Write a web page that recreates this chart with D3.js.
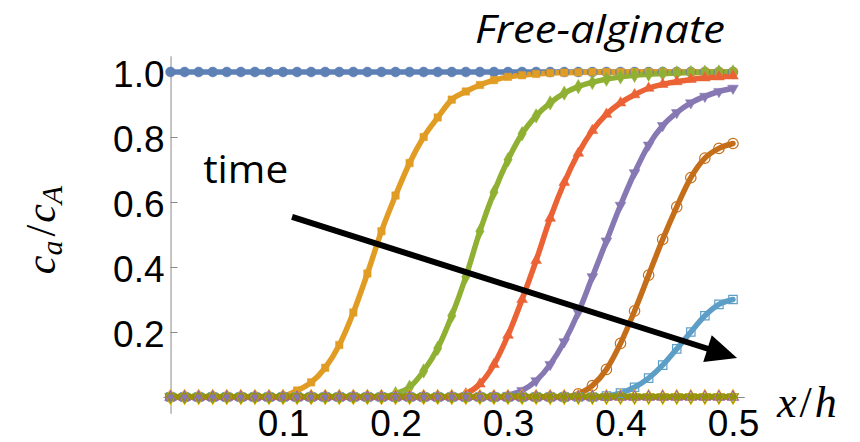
<!DOCTYPE html>
<html>
<head>
<meta charset="utf-8">
<script src="https://cdn.jsdelivr.net/npm/d3@7"></script>
<style>
  body { margin: 0; background: #fff; }
  svg { display: block; }
</style>
</head>
<body>
<svg id="chart"></svg>
<script>
// x/h positions of the sampled points
var xs = [0, 0.0125, 0.025, 0.0375, 0.05, 0.0625, 0.075, 0.0875, 0.1, 0.1125,
          0.125, 0.1375, 0.15, 0.1625, 0.175, 0.1875, 0.2, 0.2125, 0.225, 0.2375,
          0.25, 0.2625, 0.275, 0.2875, 0.3, 0.3125, 0.325, 0.3375, 0.35, 0.3625,
          0.375, 0.3875, 0.4, 0.4125, 0.425, 0.4375, 0.45, 0.4625, 0.475, 0.4875, 0.5];

// c_a / c_A at each x, one array per time step
var s1 = [1, 1, 1, 1, 1, 1, 1, 1, 1, 1, 1, 1, 1, 1, 1, 1, 1, 1, 1, 1,
          1, 1, 1, 1, 1, 1, 1, 1, 1, 1, 1, 1, 1, 1, 1, 1, 1, 1, 1, 1, 1];
var s2 = [0, 0, 0, 0, 0, 0, 0, 0, 0.003, 0.02, 0.045, 0.09, 0.16, 0.26, 0.38, 0.51, 0.62, 0.72, 0.80, 0.86,
          0.915, 0.94, 0.96, 0.975, 0.985, 0.99, 0.994, 0.997, 0.998, 0.999, 1, 1, 1, 1, 1, 1, 1, 1, 1, 1, 1];
var s3 = [0, 0, 0, 0, 0, 0, 0, 0, 0, 0, 0, 0, 0, 0, 0, 0, 0.01, 0.03, 0.08, 0.15,
          0.25, 0.37, 0.51, 0.63, 0.73, 0.81, 0.865, 0.905, 0.935, 0.955, 0.968, 0.978, 0.985, 0.99, 0.993, 0.995, 0.997, 0.998, 0.999, 1, 1];
var s4 = [0, 0, 0, 0, 0, 0, 0, 0, 0, 0, 0, 0, 0, 0, 0, 0, 0, 0, 0, 0,
          0, 0.01, 0.04, 0.10, 0.19, 0.30, 0.42, 0.55, 0.66, 0.75, 0.82, 0.87, 0.905, 0.93, 0.95, 0.962, 0.97, 0.977, 0.982, 0.985, 0.988];
var s5 = [0, 0, 0, 0, 0, 0, 0, 0, 0, 0, 0, 0, 0, 0, 0, 0, 0, 0, 0, 0,
          0, 0, 0, 0, 0.005, 0.02, 0.05, 0.10, 0.17, 0.26, 0.37, 0.48, 0.59, 0.69, 0.775, 0.835, 0.875, 0.905, 0.925, 0.94, 0.95];
var s6 = [0, 0, 0, 0, 0, 0, 0, 0, 0, 0, 0, 0, 0, 0, 0, 0, 0, 0, 0, 0,
          0, 0, 0, 0, 0, 0, 0, 0, 0, 0.01, 0.035, 0.085, 0.165, 0.265, 0.375, 0.485, 0.585, 0.675, 0.735, 0.765, 0.78];
var s7 = [0, 0, 0, 0, 0, 0, 0, 0, 0, 0, 0, 0, 0, 0, 0, 0, 0, 0, 0, 0,
          0, 0, 0, 0, 0, 0, 0, 0, 0, 0, 0, 0.003, 0.012, 0.03, 0.058, 0.098, 0.148, 0.2, 0.25, 0.285, 0.30];
var s8 = [0, 0, 0, 0, 0, 0, 0, 0, 0, 0, 0, 0, 0, 0, 0, 0, 0, 0, 0, 0,
          0, 0, 0, 0, 0, 0, 0, 0, 0, 0, 0, 0, 0, 0, 0, 0, 0, 0, 0, 0, 0];
var s9 = [0, 0, 0, 0, 0, 0, 0, 0, 0, 0, 0, 0, 0, 0, 0, 0, 0, 0, 0, 0,
          0, 0, 0, 0, 0, 0, 0, 0, 0, 0, 0, 0, 0, 0, 0, 0, 0, 0, 0, 0, 0];
var s10 = [0, 0, 0, 0, 0, 0, 0, 0, 0, 0, 0, 0, 0, 0, 0, 0, 0, 0, 0, 0,
           0, 0, 0, 0, 0, 0, 0, 0, 0, 0, 0, 0, 0, 0, 0, 0, 0, 0, 0, 0, 0];

var xTicks = [0.1, 0.2, 0.3, 0.4, 0.5];
var xTickLabels = ["0.1", "0.2", "0.3", "0.4", "0.5"];
var yTicks = [0.2, 0.4, 0.6, 0.8, 1.0];
var yTickLabels = ["0.2", "0.4", "0.6", "0.8", "1.0"];

// arrow annotation, in data units
var arrowFrom = [0.108, 0.554];
var arrowTo = [0.5036, 0.12];
var timeLabelAt = [0.029, 0.658];

var width = 860,
    height = 442;

// mathematica default colours and markers
var series = [
    {v: s1, color: "#5E81B5", sym: d3.symbolCircle, open: false, size: 78},
    {v: s2, color: "#E19C24", sym: d3.symbolSquare, open: false, size: 55},
    {v: s3, color: "#8FB032", sym: d3.symbolDiamond, open: false, size: 60},
    {v: s4, color: "#EB6235", sym: d3.symbolTriangle, open: false, size: 50},
    {v: s5, color: "#8778B3", sym: d3.symbolTriangle, open: false, size: 50, rot: 180},
    {v: s6, color: "#C56E1A", sym: d3.symbolCircle, open: true, size: 85},
    {v: s7, color: "#5D9EC7", sym: d3.symbolSquare, open: true, size: 70},
    {v: s8, color: "#FFBF00", sym: d3.symbolDiamond, open: true, size: 60},
    {v: s9, color: "#A5609D", sym: d3.symbolTriangle, open: true, size: 50},
    {v: s10, color: "#929600", sym: d3.symbolTriangle, open: true, size: 50, rot: 180}
];

var x = d3.scaleLinear().domain([-0.0067, 0.51]).range([163, 744.25]);
var y = d3.scaleLinear().domain([-0.05, 1.05]).range([413.25, 55.75]);

var svg = d3.select("#chart")
    .attr("width", width)
    .attr("height", height);

// axes
var axisColor = "#8a8a8a";

var yMinor = [];
for (var k = -1; k <= 21; k++) {
    if (k % 4 != 0) yMinor.push(k * 0.05);
}
var xMinor = [];
for (var j = 1; j <= 25; j++) {
    if (j % 5 != 0) xMinor.push(j * 0.02);
}

var gy = svg.append("g").attr("transform", "translate(" + x(0) + ",0)");
gy.call(d3.axisLeft(y).tickValues(yMinor).tickSize(-4).tickSizeOuter(0).tickFormat(""));
gy.call(d3.axisLeft(y).tickValues(yTicks).tickSize(-7).tickSizeOuter(0).tickPadding(6)
    .tickFormat(function(d, i) { return yTickLabels[i]; }));

var gx = svg.append("g").attr("transform", "translate(0," + y(0) + ")");
gx.call(d3.axisBottom(x).tickValues(xMinor).tickSize(-4).tickSizeOuter(0).tickFormat(""));
gx.call(d3.axisBottom(x).tickValues(xTicks).tickSize(-7).tickSizeOuter(0).tickPadding(13)
    .tickFormat(function(d, i) { return xTickLabels[i]; }));

svg.selectAll(".domain, .tick line").attr("stroke", axisColor).attr("stroke-width", 1);
svg.selectAll(".tick text")
    .attr("fill", "#000")
    .style("font-family", "'Liberation Sans', Arial, sans-serif")
    .style("font-size", "37px");
gy.selectAll(".tick text").attr("dy", "0.4em");

// lines
var line = d3.line()
    .x(function(d, i) { return x(xs[i]); })
    .y(function(d) { return y(d); })
    .curve(d3.curveMonotoneX);

var lines = svg.append("g");
series.forEach(function(s) {
    lines.append("path")
        .attr("d", line(s.v))
        .attr("fill", "none")
        .attr("stroke", s.color)
        .attr("stroke-width", 5.5)
        .attr("stroke-linejoin", "round")
        .attr("stroke-linecap", "round");
});

// markers
var marks = svg.append("g");
series.forEach(function(s) {
    marks.append("g").selectAll("path")
        .data(s.v)
        .enter().append("path")
        .attr("d", d3.symbol().type(s.sym).size(s.size))
        .attr("transform", function(d, i) {
            return "translate(" + x(xs[i]) + "," + y(d) + ")" + (s.rot ? " rotate(" + s.rot + ")" : "");
        })
        .attr("fill", s.open ? "none" : s.color)
        .attr("stroke", s.color)
        .attr("stroke-width", s.open ? 1.2 : 0.5);
});

// time arrow
var ax0 = x(arrowFrom[0]), ay0 = y(arrowFrom[1]);
var ax1 = x(arrowTo[0]), ay1 = y(arrowTo[1]);
var len = Math.sqrt((ax1 - ax0) * (ax1 - ax0) + (ay1 - ay0) * (ay1 - ay0));
var ux = (ax1 - ax0) / len, uy = (ay1 - ay0) / len;
var headLen = 31, headHalf = 14;
var bx = ax1 - ux * headLen, by = ay1 - uy * headLen;

svg.append("line")
    .attr("x1", ax0).attr("y1", ay0)
    .attr("x2", bx + ux * 2).attr("y2", by + uy * 2)
    .attr("stroke", "#000")
    .attr("stroke-width", 6);

svg.append("path")
    .attr("d", "M" + ax1 + "," + ay1 +
               "L" + (bx - uy * headHalf) + "," + (by + ux * headHalf) +
               "L" + (bx + uy * headHalf) + "," + (by - ux * headHalf) + "Z")
    .attr("fill", "#000");

svg.append("text")
    .attr("x", x(timeLabelAt[0]))
    .attr("y", y(timeLabelAt[1]))
    .attr("textLength", 85)
    .attr("lengthAdjust", "spacingAndGlyphs")
    .style("font-family", "'Open Sans', sans-serif")
    .style("font-size", "38px")
    .text("time");

// title
svg.append("text")
    .attr("x", 475)
    .attr("y", 43)
    .attr("textLength", 250)
    .attr("lengthAdjust", "spacingAndGlyphs")
    .style("font-family", "'Open Sans', sans-serif")
    .style("font-style", "italic")
    .style("font-size", "38px")
    .text("Free-alginate");

// axis labels
var xl = svg.append("text")
    .attr("x", 777)
    .attr("y", 417)
    .style("font-family", "'Liberation Serif', 'Times New Roman', serif")
    .style("font-size", "44px")
    .style("letter-spacing", "3px");
xl.append("tspan").style("font-style", "italic").text("x");
xl.append("tspan").text("/");
xl.append("tspan").style("font-style", "italic").text("h");

var yl = svg.append("text")
    .attr("transform", "translate(55,230) rotate(-90)")
    .attr("text-anchor", "middle")
    .style("font-family", "'Liberation Serif', 'Times New Roman', serif")
    .style("font-size", "42px");
yl.append("tspan").style("font-style", "italic").text("c");
yl.append("tspan").style("font-style", "italic").style("font-size", "30px").attr("dy", 7).text("a");
yl.append("tspan").attr("dy", -7).attr("dx", 4).text("/");
yl.append("tspan").style("font-style", "italic").attr("dx", 2).text("c");
yl.append("tspan").style("font-style", "italic").style("font-size", "30px").attr("dy", 7).text("A");
</script>
</body>
</html>
